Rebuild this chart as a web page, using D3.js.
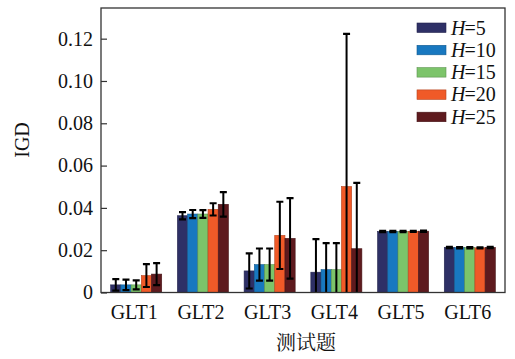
<!DOCTYPE html>
<html><head><meta charset="utf-8">
<script src="https://cdn.jsdelivr.net/npm/d3@7"></script>
<style>body{margin:0;background:#fff}svg{display:block}</style>
</head><body>
<script>
const categories = ["GLT1","GLT2","GLT3","GLT4","GLT5","GLT6"];
const seriesNames = ["5","10","15","20","25"];
const colors = ["#2e3066","#1878c0","#7cc46a","#f05a28","#5e1a1e"];
const meanH5  = [0.0036,0.0363,0.0102,0.0096,0.0288,0.0213];
const meanH10 = [0.0036,0.0371,0.0132,0.0108,0.0288,0.0212];
const meanH15 = [0.0036,0.0371,0.0132,0.0108,0.0288,0.0212];
const meanH20 = [0.0080,0.0393,0.0270,0.0501,0.0289,0.0211];
const meanH25 = [0.0087,0.0417,0.0256,0.0207,0.0290,0.0213];
const errH5  = [0.0027,0.0017,0.0083,0.0156,0.0003,0.0003];
const errH10 = [0.0025,0.0019,0.0076,0.0125,0.0003,0.0003];
const errH15 = [0.0021,0.0018,0.0076,0.0125,0.0003,0.0003];
const errH20 = [0.0054,0.0029,0.0159,0.0722,0.0003,0.0003];
const errH25 = [0.0052,0.0058,0.0190,0.0311,0.0003,0.0003];
const yTicks = [0,0.02,0.04,0.06,0.08,0.10,0.12];
const yLabel = "IGD";
const xLabel = "测试题";

const means = [meanH5,meanH10,meanH15,meanH20,meanH25];
const errs = [errH5,errH10,errH15,errH20,errH25];

const W=515,H=359;
const L=101,R=505,T=8,B=292.5;
const svg=d3.select("body").append("svg").attr("width",W).attr("height",H);
const serif="'Liberation Serif','Times New Roman',serif";

const x=d3.scaleBand().domain(categories).range([L,R]).paddingInner(0.235).paddingOuter(0.145);
const xs=d3.scaleBand().domain(seriesNames).range([0,x.bandwidth()]);
const y=d3.scaleLinear().domain([0,0.1345]).range([B,T]);

svg.append("clipPath").attr("id","clip").append("rect").attr("x",L).attr("y",T).attr("width",R-L).attr("height",B-T);

const data=[];
categories.forEach((c,i)=>seriesNames.forEach((s,j)=>data.push({c,s,j,v:means[j][i],e:errs[j][i]})));

const g=svg.append("g").attr("clip-path","url(#clip)");
g.selectAll("rect.bar").data(data).enter().append("rect").attr("class","bar")
 .attr("x",d=>x(d.c)+xs(d.s)).attr("width",xs.bandwidth())
 .attr("y",d=>y(d.v)).attr("height",d=>y(0)-y(d.v))
 .attr("fill",d=>colors[d.j]).attr("stroke",d=>d3.color(colors[d.j]).darker(0.8)).attr("stroke-width",0.6);

const eb=g.selectAll("g.err").data(data).enter().append("g").attr("stroke","#000").attr("stroke-width",2);
eb.append("line").attr("x1",d=>x(d.c)+xs(d.s)+xs.bandwidth()/2).attr("x2",d=>x(d.c)+xs(d.s)+xs.bandwidth()/2)
 .attr("y1",d=>y(d.v+d.e)).attr("y2",d=>y(d.v-d.e));
[1,-1].forEach(sg=>{
 eb.append("line").attr("x1",d=>x(d.c)+xs(d.s)+xs.bandwidth()/2-3.5).attr("x2",d=>x(d.c)+xs(d.s)+xs.bandwidth()/2+3.5)
  .attr("y1",d=>y(d.v+sg*d.e)).attr("y2",d=>y(d.v+sg*d.e)).attr("stroke-width",2.2);
});

// frame
svg.append("rect").attr("x",L).attr("y",T).attr("width",R-L).attr("height",B-T).attr("fill","none").attr("stroke","#333").attr("stroke-width",1.3);

// y axis
const ya=svg.append("g").attr("transform",`translate(${L},0)`)
 .call(d3.axisLeft(y).tickValues(yTicks).tickSize(-6).tickPadding(8).tickFormat(d=>d===0?"0":d3.format(".2f")(d)));
ya.select(".domain").remove();
ya.selectAll(".tick line").attr("stroke","#333").attr("stroke-width",1.2);
ya.selectAll("text").attr("font-family",serif).attr("font-size",20).attr("fill","#111");

// x axis
const xa=svg.append("g").attr("transform",`translate(0,${B})`)
 .call(d3.axisBottom(x).tickSize(0).tickPadding(12));
xa.select(".domain").remove();
xa.selectAll("text").attr("font-family",serif).attr("font-size",20).attr("fill","#111").attr("dx",-2);

svg.append("text").attr("transform","translate(29,140) rotate(-90)").attr("text-anchor","middle")
 .attr("font-family",serif).attr("font-size",20).attr("fill","#111").text(yLabel);
svg.append("text").attr("x",306).attr("y",350).attr("text-anchor","middle")
 .attr("font-family","'Noto Serif CJK SC','Noto Sans CJK SC',sans-serif").attr("font-size",20).attr("fill","#111").text(xLabel);

// legend
const lg=svg.append("g");
seriesNames.forEach((s,j)=>{
 const yy=27.5+j*22.3;
 lg.append("rect").attr("x",417).attr("y",yy-4.5).attr("width",29).attr("height",9.5)
  .attr("fill",colors[j]).attr("stroke",d3.color(colors[j]).darker(0.8)).attr("stroke-width",0.6);
 const t=lg.append("text").attr("x",451).attr("y",yy+7).attr("font-family",serif).attr("font-size",20).attr("fill","#111");
 t.append("tspan").attr("font-style","italic").text("H");
 t.append("tspan").attr("dx",-1).text("="+s);
});
</script>
</body></html>
